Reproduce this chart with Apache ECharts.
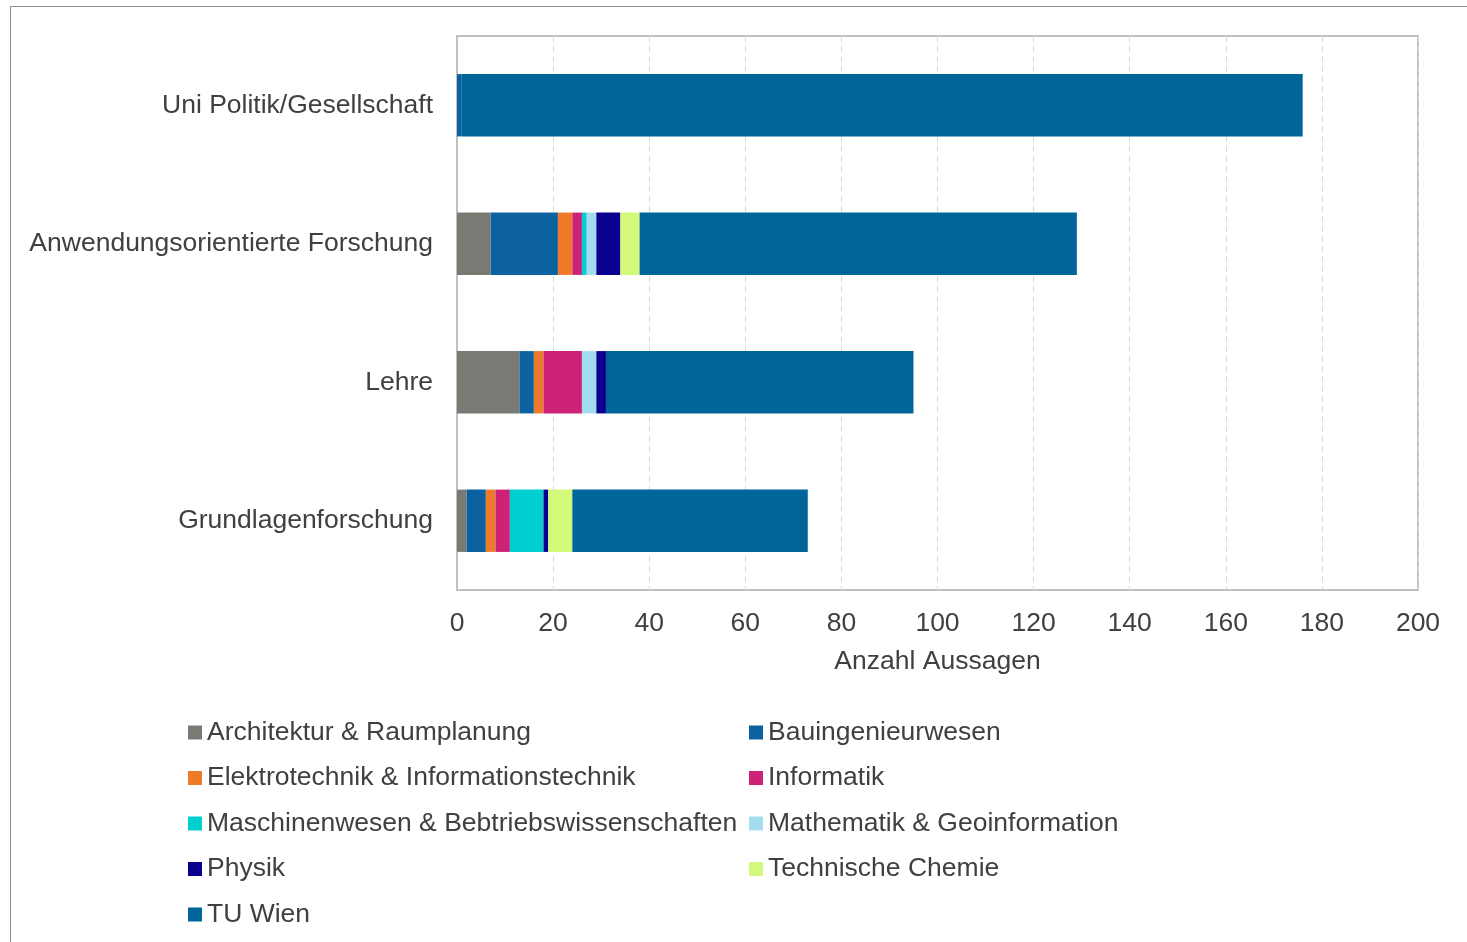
<!DOCTYPE html>
<html>
<head>
<meta charset="utf-8">
<script src="https://cdn.jsdelivr.net/npm/echarts@6/dist/echarts.min.js"></script>
<style>
html,body{margin:0;padding:0;background:#fff;}
#c{width:1467px;height:942px;}
</style>
</head>
<body>
<div id="c"></div>
<script>
const categories = ['Grundlagenforschung', 'Lehre', 'Anwendungsorientierte Forschung', 'Uni Politik/Gesellschaft'];
const seriesNames = ['Architektur & Raumplanung', 'Bauingenieurwesen', 'Elektrotechnik & Informationstechnik', 'Informatik', 'Maschinenwesen & Bebtriebswissenschaften', 'Mathematik & Geoinformation', 'Physik', 'Technische Chemie', 'TU Wien'];
const architektur = [2, 13, 7, 0];
const bauingenieurwesen = [4, 3, 14, 1];
const elektrotechnik = [2, 2, 3, 0];
const informatik = [3, 8, 2, 0];
const maschinenwesen = [7, 0, 1, 0];
const mathematik = [0, 3, 2, 0];
const physik = [1, 2, 5, 0];
const chemie = [5, 0, 4, 0];
const tuWien = [49, 64, 91, 175];
const xTicks = [0, 20, 40, 60, 80, 100, 120, 140, 160, 180, 200];

const values = [architektur, bauingenieurwesen, elektrotechnik, informatik, maschinenwesen, mathematik, physik, chemie, tuWien];
const colors = ['#7a7a74', '#0c62a0', '#ee7a2a', '#cc2277', '#00cfcf', '#a4dcef', '#0a0090', '#d2f97a', '#006699'];

const chart = echarts.init(document.getElementById('c'));
const font = 'Liberation Sans, Arial, sans-serif';
const fs = 26.5;
const legendText = {fontSize: fs, color: '#404040', fontFamily: font, lineHeight: 26};
chart.setOption({
  animation: false,
  textStyle: {fontFamily: font},
  graphic: [{
    type: 'rect', shape: {x: 10.5, y: 6.5, width: 1500, height: 1000},
    style: {fill: 'none', stroke: '#8c8c8c', lineWidth: 1}, silent: true
  }],
  grid: {left: 457, top: 36, width: 961, height: 554, show: true, borderColor: '#c0c0c0', borderWidth: 2, containLabel: false},
  xAxis: {
    type: 'value', min: xTicks[0], max: xTicks[xTicks.length - 1], interval: 20,
    name: 'Anzahl Aussagen', nameLocation: 'middle', nameGap: 58,
    nameTextStyle: {fontSize: fs, color: '#404040', fontFamily: font},
    axisLine: {show: false}, axisTick: {show: false},
    axisLabel: {fontSize: fs, color: '#404040', margin: 20, fontFamily: font},
    splitLine: {show: true, lineStyle: {color: '#d9d9d9', type: [6, 4], width: 1}}
  },
  yAxis: {
    type: 'category', data: categories,
    axisLine: {show: true, lineStyle: {color: '#c0c0c0', width: 2}},
    axisTick: {show: false},
    axisLabel: {fontSize: fs, color: '#404040', margin: 24, fontFamily: font}
  },
  legend: [
    {
      orient: 'vertical', left: 188, top: 719, padding: 0, itemWidth: 14, itemHeight: 14, itemGap: 18.5,
      icon: 'rect', textStyle: legendText, selectedMode: false,
      data: [seriesNames[0], seriesNames[2], seriesNames[4], seriesNames[6], seriesNames[8]]
    },
    {
      orient: 'vertical', left: 749, top: 719, padding: 0, itemWidth: 14, itemHeight: 14, itemGap: 18.5,
      icon: 'rect', textStyle: legendText, selectedMode: false,
      data: [seriesNames[1], seriesNames[3], seriesNames[5], seriesNames[7]]
    }
  ],
  series: seriesNames.map((n, i) => ({
    name: n, type: 'bar', stack: 'total', data: values[i], barWidth: '45%',
    itemStyle: {color: colors[i]}
  }))
});
</script>
</body>
</html>
